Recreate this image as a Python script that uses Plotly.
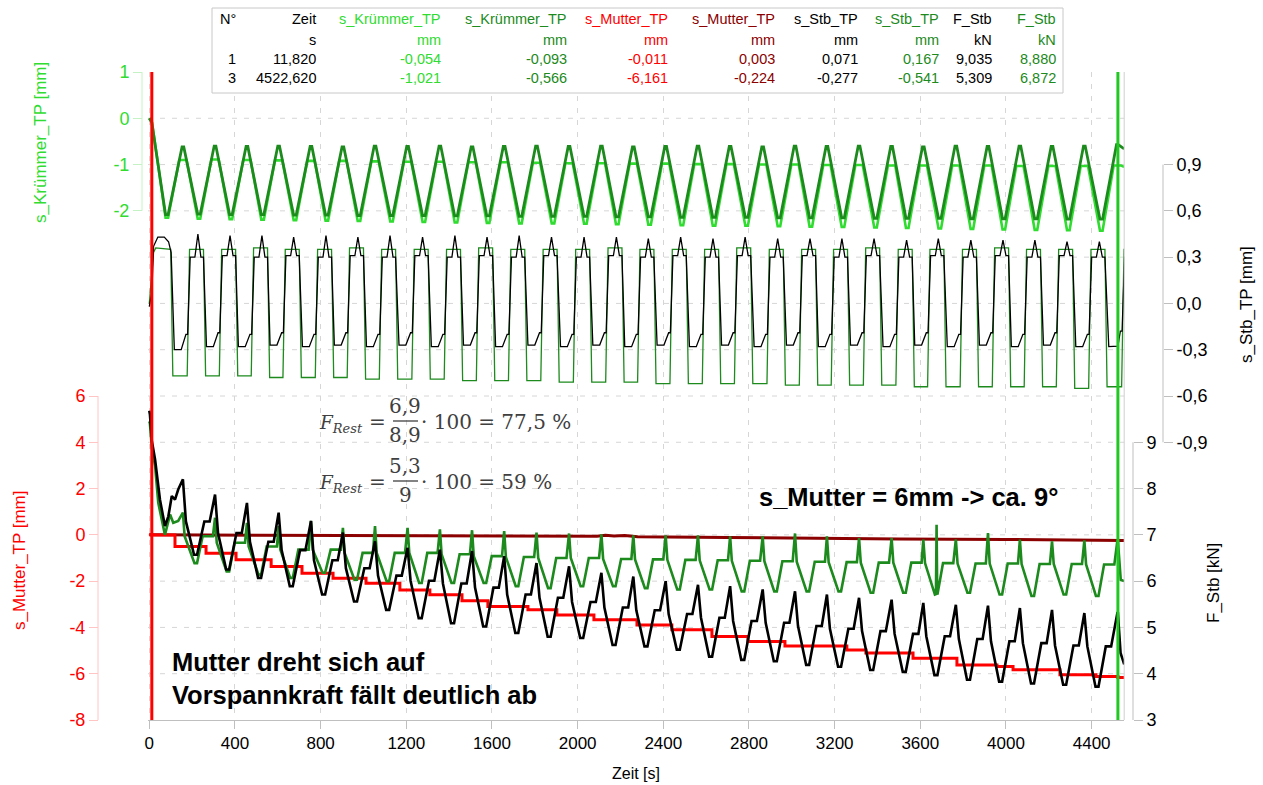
import plotly.graph_objects as go

# ------------------------------------------------------------------ data
# time of the force maximum in every load cycle [s]
cycle_t = [157, 307, 456, 604, 755, 904, 1054, 1206, 1357, 1507,
           1657, 1808, 1960, 2111, 2260, 2411, 2562, 2712, 2864, 3015,
           3164, 3314, 3466, 3614, 3766, 3916, 4065, 4215, 4366, 4520]

# cursor readout table (cursor 1 / cursor 3)
cur_no = [1, 3]
cur_zeit = [11.820, 4522.620]
cur_kr_hell = [-0.054, -1.021]
cur_kr_dunkel = [-0.093, -0.566]
cur_mut_rot = [-0.011, -6.161]
cur_mut_dunkel = [0.003, -0.224]
cur_stb_schwarz = [0.071, -0.277]
cur_stb_gruen = [0.167, -0.541]
cur_f_schwarz = [9.035, 5.309]
cur_f_gruen = [8.880, 6.872]

# s_Krümmer_TP [mm] - minimum before / maximum at each cycle
kr_hell_min = [-2.15, -2.17, -2.18, -2.19, -2.20, -2.21, -2.22, -2.23, -2.24, -2.25,
               -2.26, -2.27, -2.27, -2.28, -2.29, -2.30, -2.31, -2.32, -2.32, -2.33,
               -2.34, -2.35, -2.36, -2.37, -2.38, -2.39, -2.40, -2.41, -2.42, -2.43]
kr_hell_max = [-0.90, -0.89, -0.90, -0.91, -0.92, -0.92, -0.93, -0.94, -0.94, -0.95,
               -0.95, -0.96, -0.97, -0.97, -0.98, -0.98, -0.99, -0.99, -1.00, -1.00,
               -1.01, -1.01, -1.02, -1.02, -1.02, -1.02, -1.03, -1.03, -1.03, -1.02]
kr_dunkel_min = [-2.08, -2.07, -2.08, -2.08, -2.09, -2.09, -2.10, -2.10, -2.10, -2.11,
                 -2.11, -2.12, -2.12, -2.12, -2.13, -2.13, -2.14, -2.14, -2.14, -2.15,
                 -2.15, -2.15, -2.16, -2.16, -2.16, -2.17, -2.17, -2.17, -2.18, -2.18]
kr_dunkel_max = [-0.62, -0.60, -0.61, -0.60, -0.61, -0.62, -0.60, -0.61, -0.60, -0.62,
                 -0.61, -0.60, -0.61, -0.60, -0.62, -0.61, -0.60, -0.61, -0.62, -0.60,
                 -0.61, -0.60, -0.61, -0.62, -0.60, -0.61, -0.60, -0.61, -0.60, -0.57]

# s_Stb_TP [mm] green: upper / lower plateau
stb_gruen_hoch = [0.35, 0.35, 0.36, 0.35, 0.35, 0.36, 0.35, 0.35, 0.35, 0.36,
                  0.35, 0.35, 0.35, 0.36, 0.35, 0.35, 0.35, 0.36, 0.35, 0.35,
                  0.35, 0.36, 0.35, 0.35, 0.35, 0.36, 0.35, 0.35, 0.35, 0.35]
stb_gruen_tief = [-0.47, -0.47, -0.47, -0.48, -0.48, -0.48, -0.49, -0.49, -0.49, -0.50,
                  -0.50, -0.50, -0.51, -0.51, -0.51, -0.52, -0.52, -0.52, -0.52, -0.53,
                  -0.53, -0.53, -0.53, -0.54, -0.54, -0.54, -0.54, -0.54, -0.55, -0.54, -0.55]
# s_Stb_TP [mm] black: valley, level before rise, shoulder, peak
stb_schwarz_tief = [-0.30, -0.28, -0.28, -0.27, -0.28, -0.27, -0.28, -0.27, -0.28, -0.27,
                    -0.28, -0.27, -0.28, -0.27, -0.28, -0.27, -0.28, -0.27, -0.28, -0.27,
                    -0.28, -0.27, -0.28, -0.27, -0.28, -0.27, -0.28, -0.27, -0.28, -0.28]
stb_schwarz_vor = [-0.20, -0.19, -0.20, -0.19, -0.20, -0.19, -0.20, -0.19, -0.20, -0.19,
                   -0.20, -0.19, -0.20, -0.19, -0.20, -0.19, -0.20, -0.19, -0.20, -0.19,
                   -0.20, -0.19, -0.20, -0.19, -0.20, -0.19, -0.20, -0.19, -0.20, -0.18]
stb_schwarz_mitte = [0.30, 0.31, 0.30, 0.31, 0.30, 0.31, 0.30, 0.31, 0.30, 0.31,
                     0.30, 0.31, 0.30, 0.31, 0.30, 0.31, 0.30, 0.31, 0.30, 0.31,
                     0.30, 0.31, 0.30, 0.31, 0.30, 0.31, 0.30, 0.31, 0.30, 0.30]
stb_schwarz_hoch = [0.45, 0.44, 0.44, 0.43, 0.44, 0.43, 0.44, 0.43, 0.44, 0.43,
                    0.44, 0.43, 0.43, 0.43, 0.42, 0.43, 0.42, 0.43, 0.42, 0.42,
                    0.42, 0.42, 0.41, 0.42, 0.41, 0.41, 0.41, 0.40, 0.40, 0.40]

# s_Mutter_TP [mm] red (stepwise) and dark red
mut_rot_t = [0, 120, 265, 405, 569, 713, 858, 1012, 1170, 1310, 1460, 1581, 1768, 1903,
             2076, 2277, 2440, 2627, 2795, 2968, 3257, 3346, 3566, 3771, 3958, 4033,
             4252, 4420, 4552]
mut_rot_v = [0.0, -0.50, -0.79, -1.08, -1.37, -1.66, -1.87, -2.09, -2.38, -2.59, -2.85,
             -3.10, -3.24, -3.46, -3.67, -3.89, -4.10, -4.39, -4.61, -4.80, -4.97, -5.11,
             -5.33, -5.62, -5.69, -5.83, -6.05, -6.12, -6.16]
mut_dunkel_t = [0, 500, 1000, 1500, 2090, 2130, 2170, 2220, 2280, 2700, 3050,
                3500, 4000, 4400, 4552]
mut_dunkel_v = [0.0, -0.02, -0.03, -0.04, -0.06, -0.02, -0.05, -0.03, -0.08,
                -0.11, -0.15, -0.18, -0.20, -0.22, -0.24]

# F_Stb [kN] black: peak, valley, shoulder
f_schwarz_max = [8.20, 7.87, 7.69, 7.48, 7.30, 7.05, 6.86, 6.72, 6.68, 6.65,
                 6.54, 6.39, 6.32, 6.18, 6.10, 6.00, 5.92, 5.89, 5.82, 5.78,
                 5.71, 5.64, 5.60, 5.53, 5.49, 5.47, 5.42, 5.38, 5.31, 5.31]
f_schwarz_min = [6.57, 6.25, 6.07, 5.89, 5.71, 5.56, 5.38, 5.20, 5.09, 5.02,
                 4.88, 4.80, 4.77, 4.62, 4.59, 4.52, 4.37, 4.30, 4.27, 4.19,
                 4.15, 4.08, 4.04, 3.97, 3.87, 3.83, 3.79, 3.76, 3.72]
f_schwarz_mitte = [7.29, 7.04, 6.85, 6.67, 6.45, 6.28, 6.12, 6.01, 5.95, 5.86,
                   5.71, 5.64, 5.55, 5.43, 5.37, 5.29, 5.21, 5.14, 5.10, 5.03,
                   4.97, 4.92, 4.86, 4.81, 4.75, 4.70, 4.66, 4.61, 4.59]
f_schwarz_anlauf_t = [0, 3, 27, 50, 73, 89, 105, 120, 135]
f_schwarz_anlauf_v = [9.68, 9.60, 8.63, 7.76, 7.19, 7.40, 7.84, 7.76, 7.98]
f_schwarz_auslauf_t = [4535, 4552]
f_schwarz_auslauf_v = [4.45, 4.20]

# F_Stb [kN] green: peak, valley, plateau
f_gruen_max = [7.48, 7.37, 7.26, 7.19, 7.30, 7.15, 7.19, 7.15, 7.12, 7.10,
               7.08, 7.05, 7.03, 7.01, 6.99, 6.99, 6.99, 6.97, 6.97, 7.03,
               6.97, 6.93, 6.93, 6.90, 6.90, 7.04, 6.90, 6.86, 6.88, 6.87]
f_gruen_min = [6.39, 6.21, 6.14, 6.07, 6.18, 6.03, 6.00, 5.96, 5.96, 5.96,
               5.89, 5.85, 5.89, 5.89, 5.85, 5.82, 5.82, 5.78, 5.78, 5.78,
               5.78, 5.75, 5.75, 5.71, 5.75, 5.71, 5.68, 5.71, 5.68]
f_gruen_plateau = [6.97, 6.83, 6.75, 6.68, 6.68, 6.61, 6.61, 6.61, 6.58, 6.54,
                   6.52, 6.50, 6.50, 6.48, 6.47, 6.46, 6.45, 6.44, 6.43, 6.42,
                   6.41, 6.40, 6.40, 6.39, 6.38, 6.38, 6.37, 6.37, 6.36]
f_gruen_anlauf_t = [0, 3, 27, 42, 73, 97, 112, 135]
f_gruen_anlauf_v = [9.45, 9.40, 8.49, 7.69, 7.00, 7.44, 7.26, 7.30]
f_gruen_auslauf_t = [4536, 4552]
f_gruen_auslauf_v = [6.03, 6.00]
f_gruen_spitze_t = [3673, 3676, 3679]
f_gruen_spitze_v = [5.72, 7.22, 5.72]

# axis ticks
x_ticks = [0, 400, 800, 1200, 1600, 2000, 2400, 2800, 3200, 3600, 4000, 4400]
kr_ticks = [-2, -1, 0, 1]
stb_ticks = [-0.9, -0.6, -0.3, 0.0, 0.3, 0.6, 0.9]
stb_ticktext = ["-0,9", "-0,6", "-0,3", "0,0", "0,3", "0,6", "0,9"]
mut_ticks = [-8, -6, -4, -2, 0, 2, 4, 6]
f_ticks = [3, 4, 5, 6, 7, 8, 9]

# ------------------------------------------------------------------ style
HELLGRUEN = "#2fdc2f"
GRUEN = "#1c8a1c"
ROT = "#ff0000"
DUNKELROT = "#8b0000"
SCHWARZ = "#000000"
FONT = "Liberation Sans, Arial, sans-serif"
FORM = "DejaVu Serif, serif"
FCOL = "#404040"

W, H = 1263, 785
X0_PX, X1_PX, Y0_PX, Y1_PX = 148, 1124.2, 72, 720
T_END = 4552
N_GRID = 14          # horizontal grid divisions of the plot area


def px(x):
    return x / W


def py(y):
    return (Y1_PX - y) / (Y1_PX - Y0_PX)


def merged(pts, cur_vals):
    pts = list(pts) + list(zip(cur_zeit, cur_vals))
    pts.sort(key=lambda p: p[0])
    return [p[0] for p in pts], [p[1] for p in pts]


# ------------------------------------------------------------------ series
n = len(cycle_t)

pts = [(0.0, 0.0)]
for k, tp in enumerate(cycle_t):
    pts += [(tp - 81, kr_hell_min[k]), (tp - 69, kr_hell_min[k]),
            (tp - 17, kr_hell_max[k]), (tp + 17, kr_hell_max[k])]
pts.append((T_END, -1.05))
kr_hell_x, kr_hell_y = merged(pts, cur_kr_hell)

pts = [(0.0, 0.0)]
for k, tp in enumerate(cycle_t):
    pts += [(tp - 81, kr_dunkel_min[k]), (tp - 69, kr_dunkel_min[k]),
            (tp - 4, kr_dunkel_max[k]), (tp + 4, kr_dunkel_max[k])]
pts.append((T_END, -0.66))
kr_dunkel_x, kr_dunkel_y = merged(pts, cur_kr_dunkel)

pts = [(0.0, 0.0), (20, 0.33), (30, 0.36), (100, 0.35), (110, stb_gruen_tief[0])]
for k, tp in enumerate(cycle_t):
    pts += [(tp + 20, stb_gruen_tief[k]), (tp + 31, stb_gruen_hoch[k]),
            (tp + 96, stb_gruen_hoch[k]), (tp + 106, stb_gruen_tief[k + 1])]
stb_gruen_x, stb_gruen_y = merged(pts, cur_stb_gruen)

pts = [(0.0, -0.02), (20, 0.37), (40, 0.43), (70, 0.43), (90, 0.40), (102, 0.33)]
for k, tp in enumerate(cycle_t):
    pts += [(tp - 40, stb_schwarz_tief[k]), (tp - 8, stb_schwarz_tief[k]),
            (tp + 14, stb_schwarz_vor[k]), (tp + 22, stb_schwarz_vor[k]),
            (tp + 34, stb_schwarz_mitte[k]), (tp + 56, stb_schwarz_mitte[k]),
            (tp + 70, stb_schwarz_hoch[k]), (tp + 84, stb_schwarz_mitte[k]),
            (tp + 96, stb_schwarz_mitte[k])]
stb_schwarz_x, stb_schwarz_y = merged(pts, cur_stb_schwarz)

pts = list(zip(f_schwarz_anlauf_t, f_schwarz_anlauf_v))
for k, tp in enumerate(cycle_t):
    pts.append((tp, f_schwarz_max[k]))
    if k < n - 1:
        pts += [(tp + 14, f_schwarz_mitte[k]), (tp + 52, f_schwarz_min[k]),
                (tp + 66, f_schwarz_min[k]), (tp + 100, f_schwarz_mitte[k]),
                (tp + 125, f_schwarz_mitte[k])]
pts += list(zip(f_schwarz_auslauf_t, f_schwarz_auslauf_v))
f_schwarz_x, f_schwarz_y = merged(pts, cur_f_schwarz)

pts = list(zip(f_gruen_anlauf_t, f_gruen_anlauf_v))
for k, tp in enumerate(cycle_t):
    pts.append((tp, f_gruen_max[k]))
    if k < n - 1:
        pts += [(tp + 8, f_gruen_plateau[k]), (tp + 54, f_gruen_min[k]),
                (tp + 66, f_gruen_min[k]), (tp + 92, f_gruen_plateau[k]),
                (tp + 140, f_gruen_plateau[k])]
pts += list(zip(f_gruen_auslauf_t, f_gruen_auslauf_v))
pts += list(zip(f_gruen_spitze_t, f_gruen_spitze_v))
f_gruen_x, f_gruen_y = merged(pts, cur_f_gruen)

mut_rot_x, mut_rot_y = merged(zip(mut_rot_t, mut_rot_v), cur_mut_rot)
mut_dunkel_x, mut_dunkel_y = merged(zip(mut_dunkel_t, mut_dunkel_v), cur_mut_dunkel)

# ------------------------------------------------------------------ figure
fig = go.Figure()


def add_line(x, y, axis, color, width, shape="linear"):
    fig.add_trace(go.Scatter(x=x, y=y, yaxis=axis, mode="lines",
                             line=dict(color=color, width=width, shape=shape),
                             hoverinfo="skip", showlegend=False))


# y = s_Mutter_TP, y2 = s_Krümmer_TP, y3 = s_Stb_TP, y4 = F_Stb
add_line(stb_gruen_x, stb_gruen_y, "y3", GRUEN, 1.3)
add_line(stb_schwarz_x, stb_schwarz_y, "y3", SCHWARZ, 1.3)
add_line(kr_hell_x, kr_hell_y, "y2", HELLGRUEN, 2.6)
add_line(kr_dunkel_x, kr_dunkel_y, "y2", GRUEN, 2.8)
add_line(f_gruen_x, f_gruen_y, "y4", GRUEN, 2.6)
add_line(f_schwarz_x, f_schwarz_y, "y4", SCHWARZ, 2.6)
add_line(mut_dunkel_x, mut_dunkel_y, "y", DUNKELROT, 3)
add_line(mut_rot_x, mut_rot_y, "y", ROT, 3, "hv")


def free_axis(pos, side, rng, tickvals, ticktext, tick_col, font_col, main=False):
    d = dict(anchor="free", position=px(pos), side=side, range=rng,
             tickvals=tickvals, ticktext=ticktext, ticks="outside", ticklen=9,
             tickcolor=tick_col, tickfont=dict(color=font_col, size=18),
             showgrid=False, zeroline=False, showline=False, automargin=False)
    if main:
        d["domain"] = [0, 1]
    else:
        d["overlaying"] = "y"
    return d


fig.update_layout(
    width=W, height=H,
    margin=dict(l=0, r=0, t=Y0_PX, b=H - Y1_PX),
    paper_bgcolor="white", plot_bgcolor="white",
    font=dict(family=FONT, size=16, color="black"),
    showlegend=False,
    xaxis=dict(domain=[px(X0_PX), px(X1_PX)], range=[-6, T_END],
               tickvals=x_ticks, ticktext=[str(v) for v in x_ticks],
               ticks="outside", ticklen=8, tickcolor="#bfbfbf",
               showline=True, linecolor="#bfbfbf", linewidth=1,
               zeroline=False, tickfont=dict(size=17), automargin=False,
               showgrid=True, gridcolor="#d6d6d6", griddash="5px,7px", gridwidth=1),
    yaxis=free_axis(98, "left", [-8, 20], mut_ticks, [str(v) for v in mut_ticks],
                    "#ffc4c4", ROT, main=True),
    yaxis2=free_axis(142, "left", [-13, 1], kr_ticks, [str(v) for v in kr_ticks],
                     "#c4f2c4", HELLGRUEN),
    yaxis3=free_axis(1163, "right", [-2.7, 1.5], stb_ticks, stb_ticktext,
                     "#bfbfbf", SCHWARZ),
    yaxis4=free_axis(1133, "right", [3, 17], f_ticks, [str(v) for v in f_ticks],
                     "#bfbfbf", SCHWARZ),
)

shapes = []
# horizontal dashed grid of the plot area
for i in range(1, N_GRID):
    shapes.append(dict(type="line", xref="paper", yref="paper", layer="below",
                       x0=px(X0_PX), x1=px(X1_PX), y0=i / N_GRID, y1=i / N_GRID,
                       line=dict(color="#d6d6d6", width=1, dash="5px,7px")))
shapes += [
    # axis spines limited to the labelled span
    dict(type="line", xref="paper", yref="y2", x0=px(142), x1=px(142),
         y0=min(kr_ticks), y1=max(kr_ticks), line=dict(color="#c4f2c4", width=1)),
    dict(type="line", xref="paper", yref="y", x0=px(98), x1=px(98),
         y0=min(mut_ticks), y1=max(mut_ticks), line=dict(color="#ffc4c4", width=1)),
    dict(type="line", xref="paper", yref="y4", x0=px(1133), x1=px(1133),
         y0=min(f_ticks), y1=max(f_ticks), line=dict(color="#bfbfbf", width=1)),
    dict(type="line", xref="paper", yref="y3", x0=px(1163), x1=px(1163),
         y0=min(stb_ticks), y1=max(stb_ticks), line=dict(color="#bfbfbf", width=1)),
    # right frame of the plot area
    dict(type="line", xref="paper", yref="paper", x0=px(X1_PX), x1=px(X1_PX),
         y0=0, y1=1, line=dict(color="#cfcfcf", width=1)),
    # cursors
    dict(type="line", xref="x", yref="paper", x0=cur_zeit[0], x1=cur_zeit[0],
         y0=0, y1=1, line=dict(color=ROT, width=3)),
    dict(type="line", xref="x", yref="paper", x0=cur_zeit[1], x1=cur_zeit[1],
         y0=0, y1=1, line=dict(color="#22c822", width=3)),
    # cursor table frame
    dict(type="rect", xref="paper", yref="paper", x0=px(212), x1=px(1063),
         y0=py(93), y1=py(8), line=dict(color="#c8c8c8", width=1),
         fillcolor="white", layer="above"),
]

ann = []


def text(x, y, s, color="black", size=16, anchor="center", bold=False,
         family=FONT, angle=0):
    if bold:
        s = "<b>" + s + "</b>"
    ann.append(dict(xref="paper", yref="paper", x=px(x), y=py(y), text=s,
                    showarrow=False, xanchor=anchor, yanchor="middle",
                    textangle=angle, font=dict(color=color, size=size, family=family)))


# axis titles
text(40, 142, "s_Krümmer_TP [mm]", HELLGRUEN, 17, angle=-90)
text(19, 560, "s_Mutter_TP [mm]", ROT, 17, angle=-90)
text(1246, 305, "s_Stb_TP [mm]", SCHWARZ, 17, angle=-90)
text(1213, 583, "F_Stb [kN]", SCHWARZ, 17, angle=-90)
text(636, 773, "Zeit [s]", SCHWARZ, 16)


# cursor table
def fmt(v):
    return f"{v:.3f}".replace(".", ",")


tab_cols = [
    ("N°", "", [str(v) for v in cur_no], SCHWARZ, 238),
    ("Zeit", "s", [fmt(v) for v in cur_zeit], SCHWARZ, 318),
    ("s_Krümmer_TP", "mm", [fmt(v) for v in cur_kr_hell], HELLGRUEN, 443),
    ("s_Krümmer_TP", "mm", [fmt(v) for v in cur_kr_dunkel], GRUEN, 569),
    ("s_Mutter_TP", "mm", [fmt(v) for v in cur_mut_rot], ROT, 670),
    ("s_Mutter_TP", "mm", [fmt(v) for v in cur_mut_dunkel], DUNKELROT, 777),
    ("s_Stb_TP", "mm", [fmt(v) for v in cur_stb_schwarz], SCHWARZ, 860),
    ("s_Stb_TP", "mm", [fmt(v) for v in cur_stb_gruen], GRUEN, 941),
    ("F_Stb", "kN", [fmt(v) for v in cur_f_schwarz], SCHWARZ, 994),
    ("F_Stb", "kN", [fmt(v) for v in cur_f_gruen], GRUEN, 1058),
]
for head, unit, vals, col, xr in tab_cols:
    text(xr, 19, head, col, 14.5, anchor="right")
    if unit:
        text(xr, 40, unit, col, 14.5, anchor="right")
    text(xr, 59, vals[0], col, 14.5, anchor="right")
    text(xr, 78, vals[1], col, 14.5, anchor="right")

# remaining-force formulas
for y_mid, num, den, res in [(422, "6,9", "8,9", "77,5 %"), (482, "5,3", "9", "59 %")]:
    text(317, y_mid + 2, "<i>F</i><sub><i>Rest</i></sub>", FCOL, 18.5, anchor="left", family=FORM)
    text(377, y_mid, "=", FCOL, 20, family=FORM)
    text(405, y_mid - 16, num, FCOL, 20, family=FORM)
    text(405, y_mid + 13, den, FCOL, 20, family=FORM)
    shapes.append(dict(type="line", xref="paper", yref="paper", x0=px(393), x1=px(418),
                       y0=py(y_mid - 1), y1=py(y_mid - 1), line=dict(color=FCOL, width=1.3)))
    text(419, y_mid, "· 100 = " + res, FCOL, 20, anchor="left", family=FORM)

# comments in the plot
text(757, 497, "s_Mutter = 6mm -> ca. 9°", SCHWARZ, 25.5, anchor="left", bold=True)
text(170, 662, "Mutter dreht sich auf", SCHWARZ, 25.5, anchor="left", bold=True)
text(170, 695, "Vorspannkraft fällt deutlich ab", SCHWARZ, 25.5, anchor="left", bold=True)

fig.update_layout(shapes=shapes, annotations=ann)
fig.write_html("out.html")
